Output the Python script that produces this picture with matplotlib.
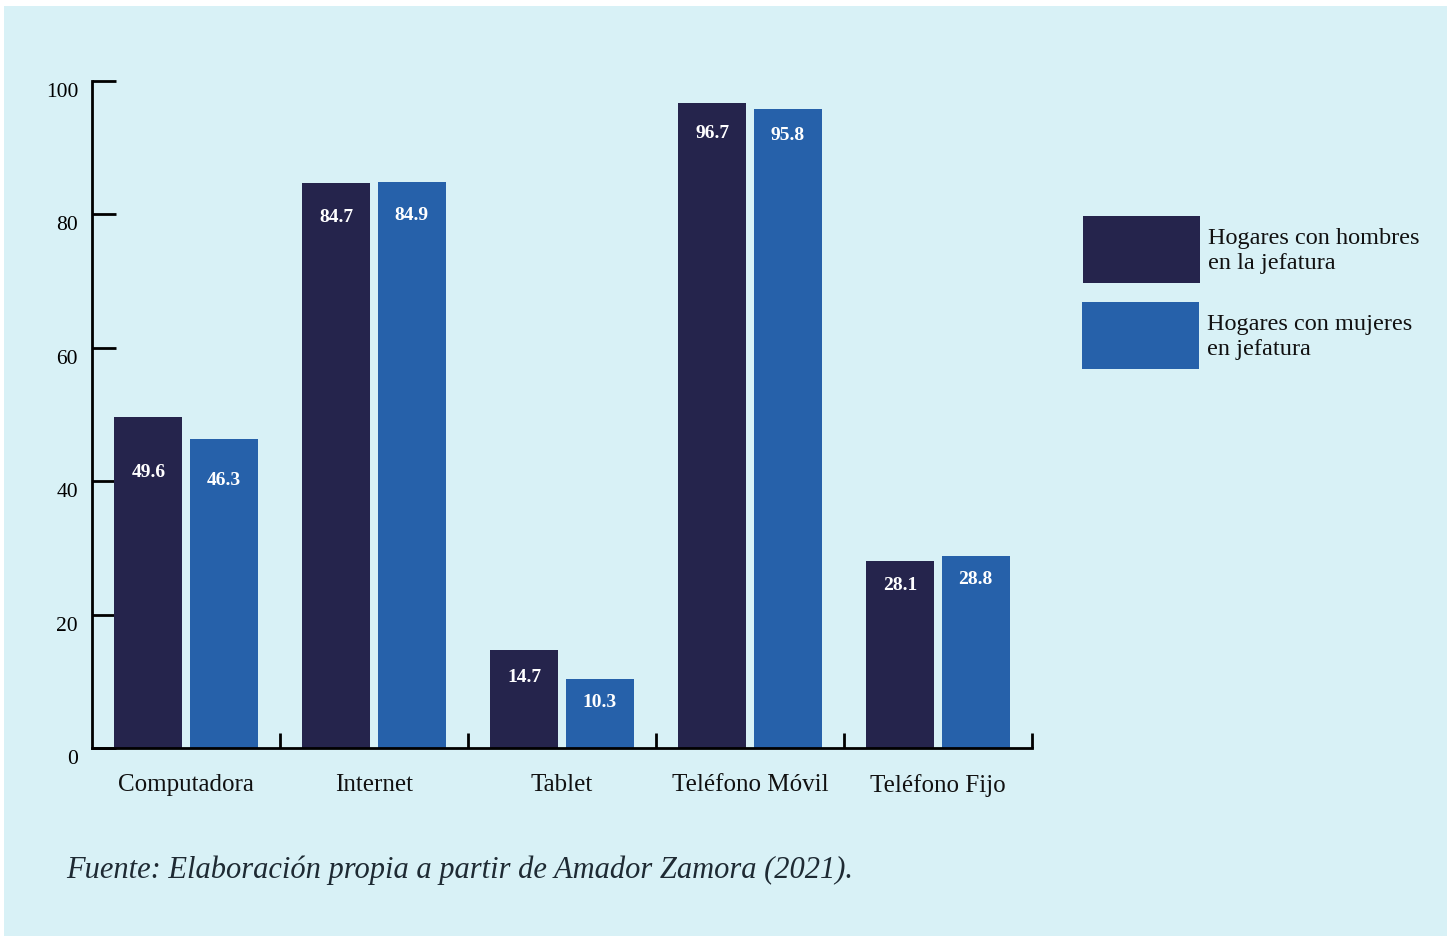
import matplotlib
matplotlib.use("Agg")
import matplotlib.pyplot as plt
from matplotlib.patches import Rectangle
from matplotlib.transforms import ScaledTranslation
import numpy as np

categories = ["Computadora", "Internet", "Tablet", "Teléfono Móvil", "Teléfono Fijo"]
hombres = [49.6, 84.7, 14.7, 96.7, 28.1]
mujeres = [46.3, 84.9, 10.3, 95.8, 28.8]
series_names = ["Hogares con hombres\nen la jefatura", "Hogares con mujeres\nen jefatura"]
y_ticks = [0, 20, 40, 60, 80, 100]
source = "Fuente: Elaboración propia a partir de Amador Zamora (2021)."

# distance (points) from bar top to value label centre
off_h = [-40, -25, -20, -22, -18]
off_m = [-30, -24, -17, -19, -17]

C_DARK = "#25244c"
C_BLUE = "#2661aa"
BG = "#d8f1f6"
SERIF = ["Liberation Serif", "DejaVu Serif"]

plt.rcParams["font.family"] = SERIF

fig = plt.figure(figsize=(14.5, 9.36), dpi=100, facecolor="white")
W, H = 1450, 936
fig.add_artist(Rectangle((4 / W, 0), 1443 / W, 930 / H, transform=fig.transFigure,
                         facecolor=BG, edgecolor="none", zorder=-10))

ax = fig.add_axes([92 / W, 1 - 748 / H, 940 / W, 667 / H])
ax.set_facecolor("none")

x = np.arange(len(categories))
bw = 0.362
ax.bar(x - 0.2, hombres, bw, color=C_DARK, zorder=2)
ax.bar(x + 0.2, mujeres, bw, color=C_BLUE, zorder=2)

for xi, v, o in zip(x, hombres, off_h):
    ax.annotate(f"{v}", (xi - 0.2, v), xytext=(0, o), textcoords="offset points",
                ha="center", va="center", color="white", fontsize=14, fontweight="bold")
for xi, v, o in zip(x, mujeres, off_m):
    ax.annotate(f"{v}", (xi + 0.2, v), xytext=(0, o), textcoords="offset points",
                ha="center", va="center", color="white", fontsize=14, fontweight="bold")

ax.set_xlim(-0.5, 4.5)
ax.set_ylim(0, 100)
for s in ["top", "right"]:
    ax.spines[s].set_visible(False)
for s in ["left", "bottom"]:
    ax.spines[s].set_linewidth(2)
    ax.spines[s].set_color("black")
    ax.spines[s].set_zorder(3)

ax.set_yticks(y_ticks)
ax.set_yticklabels([str(t) for t in y_ticks])
ax.tick_params(axis="y", direction="in", length=17, width=2, pad=10,
               labelsize=15.5, colors="black")
for lab in ax.get_yticklabels():
    lab.set_transform(lab.get_transform() + ScaledTranslation(0, -0.09, fig.dpi_scale_trans))

ax.set_xticks(x + 0.5)
ax.set_xticklabels([])
ax.tick_params(axis="x", which="major", direction="in", length=11, width=2)
ax.set_xticks(x, minor=True)
ax.set_xticklabels(categories, minor=True)
ax.tick_params(axis="x", which="minor", length=0, pad=19, labelsize=18, colors="#111111")

# legend drawn as figure patches with wrapped labels
for (y0, col, name, dx) in [(216, C_DARK, series_names[0], 1083), (302, C_BLUE, series_names[1], 1082)]:
    fig.add_artist(Rectangle((dx / W, 1 - (y0 + 67) / H), 117 / W, 67 / H,
                             transform=fig.transFigure, facecolor=col, edgecolor="none"))
    fig.text((dx + 125) / W, 1 - (y0 + 35) / H, name, ha="left", va="center",
             fontsize=17.5, color="#111111", linespacing=1.25)

fig.text(66 / W, 1 - 870 / H, source, ha="left", va="center", fontsize=22,
         style="italic", color="#1e2a33")

fig.savefig("out.png", dpi=100, facecolor="white")
